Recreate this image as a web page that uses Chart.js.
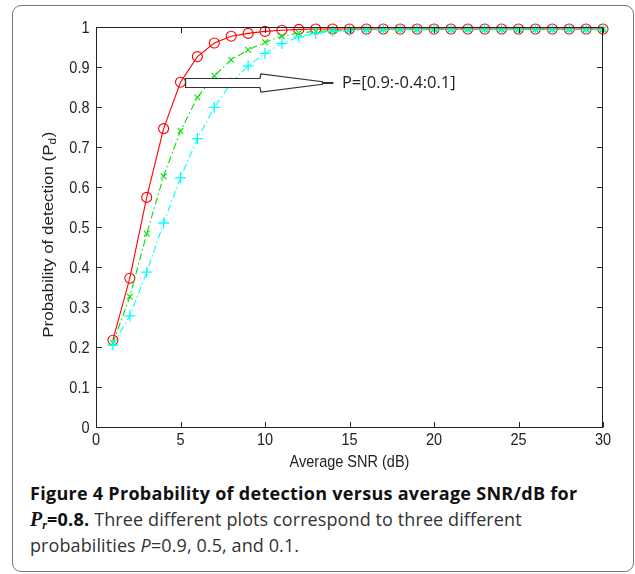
<!DOCTYPE html>
<html>
<head>
<meta charset="utf-8">
<script src="https://cdn.jsdelivr.net/npm/chart.js@4.4.1/dist/chart.umd.min.js"></script>
<style>
  html, body { margin: 0; padding: 0; background: #fff; }
  body { width: 635px; height: 574px; position: relative; overflow: hidden; }
  #frame { position: absolute; left: 12px; top: 5px; width: 620px; height: 565px;
           border: 1px solid #777; border-radius: 9px; }
  #chart { position: absolute; left: 0; top: 0; }
  #caption { position: absolute; left: 30px; top: 481px; font-family: 'Open Sans', sans-serif;
             font-size: 18px; line-height: 25.8px; color: #333; white-space: nowrap; letter-spacing: 0.1px; }
  #caption b { color: #111; letter-spacing: 0.28px; }
  .pr { font-family: 'Liberation Serif', serif; font-style: italic; font-weight: bold; font-size: 20px; letter-spacing: 0; }
  sub { font-size: 12px; vertical-align: -3px; line-height: 0; }
</style>
</head>
<body>
<div id="frame"></div>
<canvas id="chart" width="635" height="470"></canvas>
<div id="caption">
  <div><b>Figure 4 Probability of detection versus average SNR/dB for</b></div>
  <div><b><i class="pr">P<sub>r</sub></i>=0.8.</b> Three different plots correspond to three different</div>
  <div>probabilities <i>P</i>=0.9, 0.5, and 0.1.</div>
</div>
<script>
const snr = [1, 2, 3, 4, 5, 6, 7, 8, 9, 10, 11, 12, 13, 14, 15,
             16, 17, 18, 19, 20, 21, 22, 23, 24, 25, 26, 27, 28, 29, 30];

// P = 0.9 (red, circles)
const pd90 = [0.217, 0.372, 0.574, 0.746, 0.862, 0.926, 0.960, 0.977, 0.984, 0.989,
              0.992, 0.994, 0.995, 0.995, 0.995, 0.995, 0.995, 0.995, 0.995, 0.995,
              0.995, 0.995, 0.995, 0.995, 0.995, 0.995, 0.995, 0.995, 0.995, 0.995];
// P = 0.5 (green, x)
const pd50 = [0.210, 0.326, 0.483, 0.627, 0.740, 0.824, 0.878, 0.918, 0.943, 0.962,
              0.977, 0.985, 0.989, 0.991, 0.993, 0.994, 0.994, 0.994, 0.994, 0.994,
              0.994, 0.994, 0.994, 0.994, 0.994, 0.994, 0.994, 0.994, 0.994, 0.994];
// P = 0.1 (cyan, +)
const pd10 = [0.205, 0.278, 0.387, 0.510, 0.623, 0.721, 0.799, 0.860, 0.903, 0.934,
              0.959, 0.975, 0.984, 0.989, 0.991, 0.992, 0.993, 0.993, 0.993, 0.993,
              0.993, 0.993, 0.993, 0.993, 0.993, 0.993, 0.993, 0.993, 0.993, 0.993];

const xTicks = [0, 5, 10, 15, 20, 25, 30];
const xTickLabels = ['0', '5', '10', '15', '20', '25', '30'];
const yTicks = [0, 0.1, 0.2, 0.3, 0.4, 0.5, 0.6, 0.7, 0.8, 0.9, 1];
const yTickLabels = ['0', '0.1', '0.2', '0.3', '0.4', '0.5', '0.6', '0.7', '0.8', '0.9', '1'];

const xTitle = 'Average SNR (dB)';
const yTitle = ['Probability of detection (P', 'd', ')'];

// annotation arrow, in data units
const noteText = 'P=[0.9:-0.4:0.1]';
const noteY = 0.86;
const noteArrowX = [5.3, 9.7, 13.4, 14.05];
const noteTextX = 14.55;

// the matlab figure was stretched vertically when it was pasted in
const STRETCH = 1.17;
const AXIS_FONT = '14.5px "Liberation Sans", Arial, sans-serif';
const SUB_FONT = '10px "Liberation Sans", Arial, sans-serif';
const INK = '#222';

function stretchedText(ctx, text, x, y, align) {
  ctx.save();
  ctx.translate(x, y);
  ctx.scale(1, STRETCH);
  ctx.textAlign = align;
  ctx.fillText(text, 0, 0);
  ctx.restore();
}

const boxAndNotes = {
  id: 'boxAndNotes',
  afterDatasetsDraw(chart) {
    const { ctx, chartArea: a, scales: { x, y } } = chart;
    const crisp = v => Math.round(v) + 0.5;
    ctx.save();
    ctx.strokeStyle = INK;
    ctx.lineWidth = 1;
    const L = crisp(a.left), R = crisp(a.right) - 1, T = crisp(a.top), B = crisp(a.bottom);
    ctx.strokeRect(L, T, R - L, B - T);

    // inward ticks on all four sides
    const tl = 5.5;
    ctx.beginPath();
    xTicks.forEach(v => {
      const px = crisp(x.getPixelForValue(v));
      ctx.moveTo(px, B); ctx.lineTo(px, B - tl);
      ctx.moveTo(px, T); ctx.lineTo(px, T + tl);
    });
    yTicks.forEach(v => {
      const py = crisp(y.getPixelForValue(v));
      ctx.moveTo(L, py); ctx.lineTo(L + tl, py);
      ctx.moveTo(R, py); ctx.lineTo(R - tl, py);
    });
    ctx.stroke();

    // block arrow pointing at the label
    const ya = y.getPixelForValue(noteY);
    const [x0, x1, x2, x3] = noteArrowX.map(v => x.getPixelForValue(v));
    ctx.beginPath();
    ctx.moveTo(x0, ya - 4.5);
    ctx.lineTo(x1, ya - 4.5);
    ctx.lineTo(x1 + 1, ya - 9);
    ctx.lineTo(x2, ya - 1.3);
    ctx.lineTo(x2, ya + 1.3);
    ctx.lineTo(x1 + 1, ya + 9);
    ctx.lineTo(x1, ya + 4.5);
    ctx.lineTo(x0, ya + 4.5);
    ctx.closePath();
    ctx.fillStyle = '#fff';
    ctx.fill();
    ctx.strokeStyle = '#333';
    ctx.lineWidth = 1.2;
    ctx.stroke();
    ctx.beginPath();
    ctx.lineWidth = 2;
    ctx.moveTo(x2, ya); ctx.lineTo(x3, ya);
    ctx.stroke();

    ctx.fillStyle = INK;
    ctx.font = '16.5px "Open Sans", sans-serif';
    ctx.textBaseline = 'middle';
    ctx.fillText(noteText, x.getPixelForValue(noteTextX), ya + 0.5);
    ctx.restore();
  },
  afterDraw(chart) {
    const { ctx, chartArea: a, scales: { x, y } } = chart;
    ctx.save();
    ctx.fillStyle = INK;
    ctx.font = AXIS_FONT;
    ctx.textBaseline = 'alphabetic';

    xTicks.forEach((v, i) => stretchedText(ctx, xTickLabels[i], x.getPixelForValue(v), a.bottom + 18, 'center'));
    yTicks.forEach((v, i) => stretchedText(ctx, yTickLabels[i], a.left - 6.5, y.getPixelForValue(v) + 6, 'right'));
    stretchedText(ctx, xTitle, (a.left + a.right) / 2, a.bottom + 40, 'center');

    // rotated y title with subscript
    const w0 = ctx.measureText(yTitle[0]).width;
    const w2 = ctx.measureText(yTitle[2]).width;
    ctx.font = SUB_FONT;
    const w1 = ctx.measureText(yTitle[1]).width;
    const total = w0 + w1 + w2;
    ctx.translate(a.left - 43.5, (a.top + a.bottom) / 2 + 8);
    ctx.rotate(-Math.PI / 2);
    ctx.scale(STRETCH, 1);
    ctx.textAlign = 'left';
    ctx.font = AXIS_FONT;
    ctx.fillText(yTitle[0], -total / 2, 0);
    ctx.font = SUB_FONT;
    ctx.fillText(yTitle[1], -total / 2 + w0, 3.5);
    ctx.font = AXIS_FONT;
    ctx.fillText(yTitle[2], -total / 2 + w0 + w1 + 0.5, 0);
    ctx.restore();
  }
};

const dashDot = [7, 3, 1.5, 3];

new Chart(document.getElementById('chart').getContext('2d'), {
  type: 'line',
  data: {
    labels: snr,
    datasets: [
      {
        label: 'P=0.9',
        data: pd90,
        borderColor: '#ff0000',
        backgroundColor: 'rgba(0,0,0,0)',
        borderWidth: 1.1,
        pointStyle: 'circle',
        pointRadius: 5,
        pointBorderWidth: 1.1,
        pointBorderColor: '#ff0000',
        pointBackgroundColor: 'rgba(0,0,0,0)',
        tension: 0,
        clip: false,
        order: 3,
      },
      {
        label: 'P=0.5',
        data: pd50,
        borderColor: '#00e000',
        backgroundColor: 'rgba(0,0,0,0)',
        borderWidth: 1.1,
        borderDash: dashDot,
        pointStyle: 'crossRot',
        pointRadius: 4,
        pointBorderWidth: 1.1,
        pointBorderColor: '#00e000',
        tension: 0,
        clip: false,
        order: 2,
      },
      {
        label: 'P=0.1',
        data: pd10,
        borderColor: '#00ffff',
        backgroundColor: 'rgba(0,0,0,0)',
        borderWidth: 1.1,
        borderDash: dashDot,
        pointStyle: 'cross',
        pointRadius: 5.5,
        pointBorderWidth: 1.3,
        pointBorderColor: '#00ffff',
        tension: 0,
        clip: false,
        order: 1,
      },
    ],
  },
  options: {
    responsive: false,
    animation: false,
    devicePixelRatio: 1,
    layout: { padding: { left: 0, right: 32, top: 27, bottom: 0 } },
    plugins: { legend: { display: false }, tooltip: { enabled: false } },
    scales: {
      x: {
        type: 'linear',
        min: 0,
        max: 30,
        afterBuildTicks: s => { s.ticks = xTicks.map(v => ({ value: v })); },
        afterFit: s => { s.height = 43; },
        grid: { display: false, drawTicks: false },
        border: { display: false },
        ticks: { display: false },
      },
      y: {
        type: 'linear',
        min: 0,
        max: 1,
        afterBuildTicks: s => { s.ticks = yTicks.map(v => ({ value: v })); },
        afterFit: s => { s.width = 96; },
        grid: { display: false, drawTicks: false },
        border: { display: false },
        ticks: { display: false },
      },
    },
  },
  plugins: [boxAndNotes],
});
</script>
</body>
</html>
